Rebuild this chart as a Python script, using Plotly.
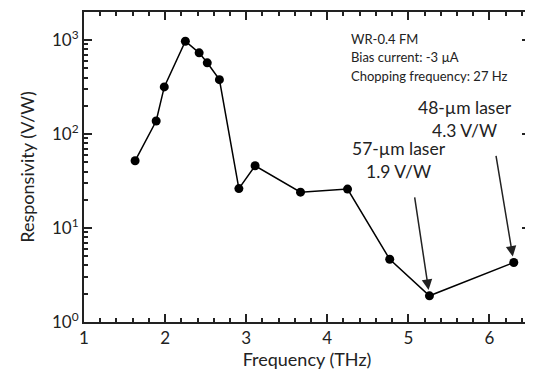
import math
import plotly.graph_objects as go

freq = [1.63, 1.89, 1.99, 2.25, 2.42, 2.52, 2.67, 2.91, 3.11, 3.67, 4.25, 4.77, 5.26, 6.30]
resp = [52, 138, 318, 975, 733, 574, 380, 26.3, 46, 24.1, 26, 4.65, 1.9, 4.3]

x_ticks = [1, 2, 3, 4, 5, 6]
y_ticks = [1, 10, 100, 1000]
y_ticktext = ["10<sup>0</sup>", "10<sup>1</sup>", "10<sup>2</sup>", "10<sup>3</sup>"]
y_minor = [m * 10 ** k for k in range(0, 4) for m in range(2, 10)]

info_lines = ["WR-0.4 FM", "Bias current: -3 µA", "Chopping frequency: 27 Hz"]
laser57 = "57-µm laser<br>1.9 V/W"
laser48 = "48-µm laser<br>4.3 V/W"

FONT = "Lato"
INK = "#222"

# page body has an 8px default margin; size the figure so it fills the 533x372 window
fig = go.Figure()
fig.add_trace(go.Scatter(
    x=freq, y=resp, mode="lines+markers",
    line=dict(color="black", width=1.5),
    marker=dict(color="black", size=9),
    showlegend=False,
))

fig.update_layout(
    width=525, height=364,
    margin=dict(l=76, r=1, t=4, b=50),
    paper_bgcolor="white", plot_bgcolor="white",
    font=dict(family=FONT, color=INK),
)

fig.update_xaxes(
    range=[1, 6.5], tickvals=x_ticks, ticks="inside", ticklen=8, tickwidth=1.5,
    tickcolor=INK, showline=True, linecolor=INK, linewidth=2, mirror="ticks",
    showgrid=False, zeroline=False, tickfont=dict(size=17, family=FONT),
    minor=dict(dtick=0.2, ticks="inside", ticklen=4, tickcolor=INK, showgrid=False),
    title=dict(text="Frequency (THz)", font=dict(size=18, family=FONT), standoff=5),
)
fig.update_yaxes(
    type="log", range=[0, 3.3], tickvals=y_ticks, ticktext=y_ticktext,
    ticks="inside", ticklen=8, tickwidth=1.5, tickcolor=INK,
    showline=True, linecolor=INK, linewidth=2, mirror="ticks",
    showgrid=False, zeroline=False, tickfont=dict(size=17, family=FONT),
    minor=dict(tickvals=y_minor, ticks="inside", ticklen=4, tickcolor=INK, showgrid=False),
    title=dict(text="Responsivity (V/W)", font=dict(size=18, family=FONT), standoff=13),
)

for i, line in enumerate(info_lines):
    fig.add_annotation(
        xref="paper", yref="paper", x=(350 - 84) / 448, y=1 - (39 + i * 18.5 - 12) / 310,
        text=line, showarrow=False, xanchor="left", yanchor="middle",
        font=dict(size=13, family=FONT, color=INK),
    )

idx57 = 12
idx48 = 13
fig.add_annotation(
    x=freq[idx57], y=math.log10(resp[idx57]), xref="x", yref="y",
    ax=-15, ay=-100, showarrow=True, arrowhead=2, arrowsize=1.4, arrowwidth=1.5,
    arrowcolor=INK, standoff=6, text="",
)
fig.add_annotation(
    x=freq[idx48], y=math.log10(resp[idx48]), xref="x", yref="y",
    ax=-18, ay=-108, showarrow=True, arrowhead=2, arrowsize=1.4, arrowwidth=1.5,
    arrowcolor=INK, standoff=6, text="",
)
fig.add_annotation(
    xref="paper", yref="paper", x=(400 - 84) / 448, y=1 - (160 - 12) / 310,
    text=laser57, showarrow=False, xanchor="center", yanchor="middle",
    font=dict(size=17.5, family=FONT, color=INK),
)
fig.add_annotation(
    xref="paper", yref="paper", x=(467 - 84) / 448, y=1 - (119 - 12) / 310,
    text=laser48, showarrow=False, xanchor="center", yanchor="middle",
    font=dict(size=17.5, family=FONT, color=INK),
)

fig.write_html("out.html")
